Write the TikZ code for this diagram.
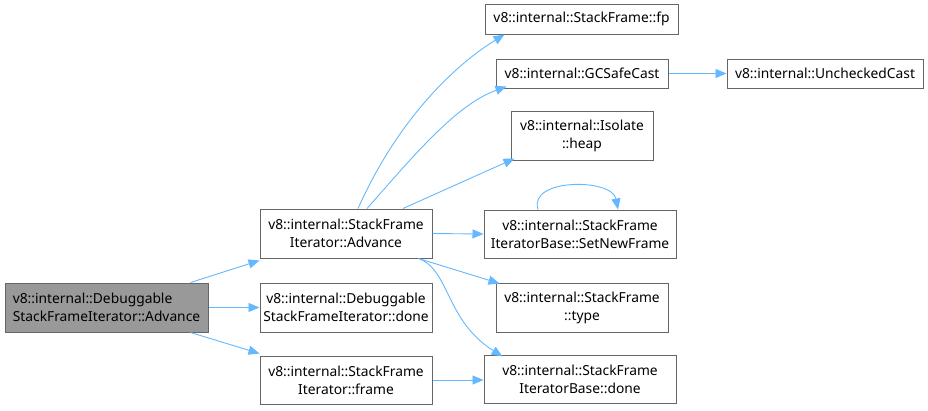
\documentclass[tikz,border=0pt]{standalone}
\usepackage{fontspec}
\setmainfont{Noto Sans}
\usetikzlibrary{positioning, calc, arrows.meta}

\definecolor{edgeblue}{HTML}{63B8FF}
\definecolor{boxgray}{HTML}{666666}
\definecolor{rootfill}{HTML}{999999}

\begin{document}
\begin{tikzpicture}[
        x=1pt, y=-1pt,
        fn/.style={rectangle, draw=boxgray, fill=white, line width=1pt, minimum height=49pt, align=center, inner sep=0pt, font=\fontsize{13.8}{18}\selectfont},
        root/.style={fn, fill=rootfill, align=left},
        call/.style={-{Triangle[length=11pt, width=9pt]}, draw=edgeblue, line width=0.9pt, fill=none}
    ]
        \useasboundingbox (0,0) rectangle (928,410);

        \node[root, minimum width=203pt] (dbgadv) at (106.5,307.5) {v8::internal::Debuggable\\StackFrameIterator::Advance};
        \node[fn, minimum width=172pt] (itadv) at (346,233.5) {v8::internal::StackFrame\\Iterator::Advance};
        \node[fn, minimum width=172pt] (dbgdone) at (346,307.5) {v8::internal::Debuggable\\StackFrameIterator::done};
        \node[fn, minimum width=172pt, minimum height=48pt] (itframe) at (346,380) {v8::internal::StackFrame\\Iterator::frame};

        \node[fn, minimum width=193pt, minimum height=30pt] (fp) at (581.5,19) {v8::internal::StackFrame::fp};
        \node[fn, minimum width=172pt, minimum height=29pt] (gccast) at (582,73.5) {v8::internal::GCSafeCast};
        \node[fn, minimum width=196pt, minimum height=29pt] (unchecked) at (825,73.5) {v8::internal::UncheckedCast};
        \node[fn, minimum width=142pt] (heap) at (582,135.5) {v8::internal::Isolate\\::heap};
        \node[fn, minimum width=192pt, minimum height=48pt] (setnew) at (580,234) {v8::internal::StackFrame\\IteratorBase::SetNewFrame};
        \node[fn, minimum width=172pt] (type) at (582,307.5) {v8::internal::StackFrame\\::type};
        \node[fn, minimum width=192pt, minimum height=48pt] (basedone) at (580,379) {v8::internal::StackFrame\\IteratorBase::done};

        \draw[call] ([xshift=-18pt]dbgadv.north east) -- ([yshift=-2pt]itadv.south west);
        \draw[call] (dbgadv.east) -- (dbgdone.west);
        \draw[call] ([xshift=-18pt]dbgadv.south east) -- ([yshift=2pt]itframe.north west);

        \draw[call] ([xshift=12pt]itadv.north) .. controls (398,119) and (455,65) .. ([xshift=20pt]fp.south west);
        \draw[call] ([xshift=21pt]itadv.north) .. controls (410,160) and (455,105) .. ([xshift=11pt,yshift=2pt]gccast.south west);
        \draw[call] ([xshift=57pt]itadv.north) -- ([xshift=4pt,yshift=2pt]heap.south west);
        \draw[call] (itadv.east) -- (setnew.west);
        \draw[call] ([xshift=-14pt]itadv.south east) -- ([xshift=4pt,yshift=-1pt]type.north west);
        \draw[call] ([xshift=-14pt]itadv.south east) .. controls (450,270) and (445,320) .. ([xshift=19pt,yshift=-2pt]basedone.north west);
        \draw[call] (itframe.east) -- (basedone.west |- itframe.east);

        \draw[call] ([xshift=-42pt]setnew.north) .. controls (528,178) and (612,178) .. ([xshift=38pt]setnew.north);

        \draw[call] (gccast.east) -- (unchecked.west);
    \end{tikzpicture}
\end{document}
